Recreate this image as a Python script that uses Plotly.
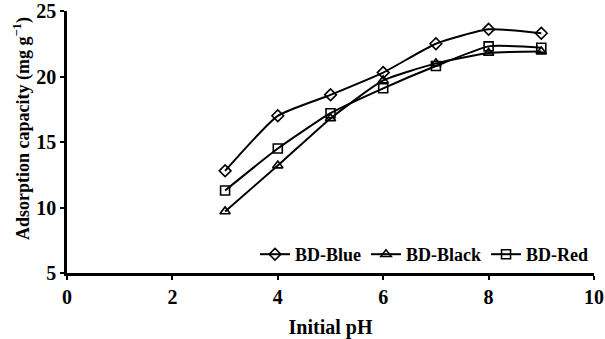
import plotly.graph_objects as go

ph = [3, 4, 5, 6, 7, 8, 9]
blue = [12.8, 17.0, 18.6, 20.3, 22.5, 23.6, 23.3]
black = [9.7, 13.2, 16.8, 19.7, 21.0, 21.8, 21.9]
red = [11.3, 14.5, 17.2, 19.1, 20.8, 22.3, 22.2]

series = [("BD-Blue", blue, "diamond-open"),
          ("BD-Black", black, "triangle-up-open"),
          ("BD-Red", red, "square-open")]

fig = go.Figure()
for name, vals, sym in series:
    fig.add_trace(go.Scatter(
        x=ph, y=vals, name=name, mode="lines+markers",
        line=dict(color="black", width=2, shape="spline", smoothing=0.5),
        marker=dict(symbol=sym, size=9, color="black", line=dict(color="black", width=1.6)),
    ))

font = "Liberation Serif, Times New Roman, serif"
fig.update_layout(
    width=605, height=339,
    margin=dict(l=67, r=11, t=11, b=66),
    paper_bgcolor="white", plot_bgcolor="white",
    font=dict(family=font, color="black", size=18),
    showlegend=True,
    legend=dict(orientation="h", x=1.0, xanchor="right", y=0.0, yanchor="bottom",
                bgcolor="rgba(0,0,0,0)", font=dict(size=18, family=font, weight="bold"),
                itemwidth=30, tracegroupgap=0),
    xaxis=dict(range=[0, 10], tickvals=[0, 2, 4, 6, 8, 10], showgrid=False, zeroline=False,
               automargin=False,
               showline=True, linecolor="black", linewidth=2.5, ticks="outside",
               ticklen=4, tickwidth=2, tickcolor="black",
               tickfont=dict(size=20, family=font, weight="bold"),
               title=dict(text="Initial pH", font=dict(size=20, family=font, weight="bold"), standoff=14)),
    yaxis=dict(range=[5, 25], tickvals=[5, 10, 15, 20, 25], showgrid=False, zeroline=False,
               automargin=False,
               showline=True, linecolor="black", linewidth=2.5, ticks="outside",
               ticklen=4, tickwidth=2, tickcolor="black",
               tickfont=dict(size=20, family=font, weight="bold")),
    annotations=[dict(text="Adsorption capacity (mg g<sup>\u22121</sup>)", textangle=-90,
                      xref="paper", yref="paper", x=-0.085, y=0.55,
                      xanchor="center", yanchor="middle", showarrow=False,
                      font=dict(size=18, family=font, weight="bold"))],
)
fig.write_html("out.html")
